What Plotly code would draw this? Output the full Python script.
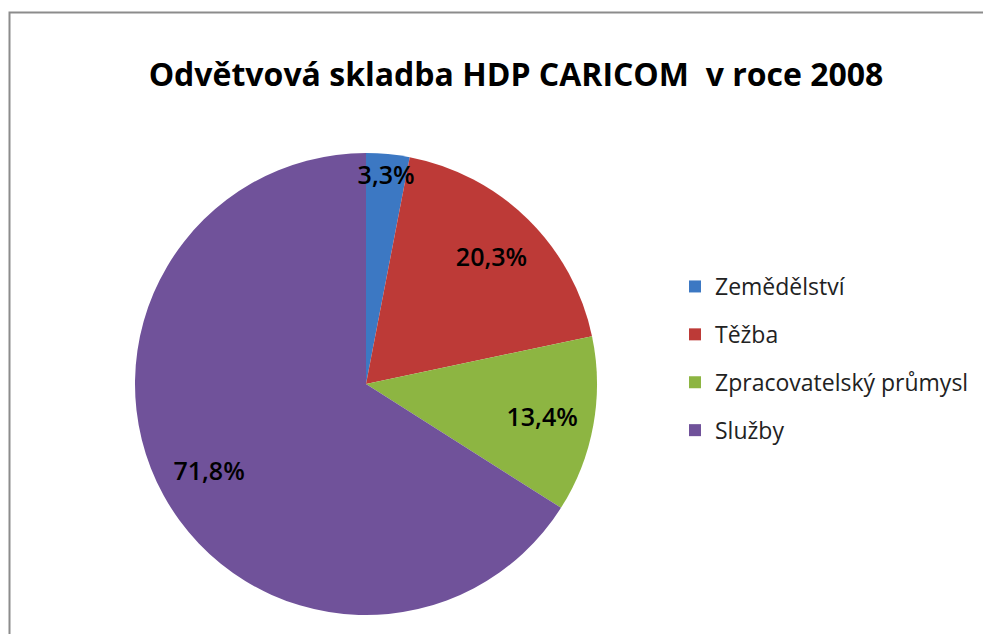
import plotly.graph_objs as go

# ---------------------------------------------------------------
# Data
# ---------------------------------------------------------------
sectors = ["Zemědělství", "Těžba", "Zpracovatelský průmysl", "Služby"]
shares = [3.3, 20.3, 13.4, 71.8]
colors = ["#3C78C3", "#BD3A37", "#8DB542", "#70529A"]

W, H = 991, 634
OFF = 8  # page body margin shifts the figure by 8px


def fmt_pct(v):
    """Czech style percentage, decimal comma."""
    return f"{v:.1f}".replace(".", ",") + "%"


def px_x(x):
    return (x - OFF) / W


def px_y(y):
    return 1 - (y - OFF) / H


pie_domain = dict(x=[px_x(135), px_x(597)], y=[px_y(615), px_y(153)])

fig = go.Figure()

# the coloured disc
fig.add_trace(
    go.Pie(
        labels=sectors,
        values=shares,
        textinfo="none",
        marker=dict(colors=colors, line=dict(width=0)),
        sort=False,
        direction="clockwise",
        rotation=0,
        showlegend=False,
        hoverinfo="label+value",
        domain=pie_domain,
    )
)

# transparent outer ring on top only carries the labels,
# so they sit out towards the rim and are not covered by the next slice
fig.add_trace(
    go.Pie(
        labels=sectors,
        values=shares,
        text=[fmt_pct(v) for v in shares],
        textinfo="text",
        textposition="inside",
        insidetextorientation="horizontal",
        textfont=dict(family="Open Sans", size=25, color="black", weight=600),
        marker=dict(colors=["rgba(0,0,0,0)"] * len(sectors), line=dict(width=0)),
        hole=0.55,
        sort=False,
        direction="clockwise",
        rotation=0,
        showlegend=False,
        hoverinfo="skip",
        domain=pie_domain,
    )
)

# legend entries (own traces so the spacing can follow the original)
for i, (name, col) in enumerate(zip(sectors, colors)):
    fig.add_trace(
        go.Scatter(
            x=[None],
            y=[None],
            mode="markers",
            name=name,
            legendgroup=f"g{i}",
            marker=dict(symbol="square", size=12, color=col),
        )
    )

fig.update_xaxes(visible=False)
fig.update_yaxes(visible=False)

fig.update_layout(
    width=W,
    height=H,
    margin=dict(l=0, r=0, t=0, b=0),
    paper_bgcolor="white",
    plot_bgcolor="white",
    uniformtext=dict(minsize=25, mode="show"),
    title=dict(
        text="<b>Odvětvová skladba HDP CARICOM  v roce 2008</b>",
        x=px_x(516),
        xanchor="center",
        y=px_y(75),
        yanchor="middle",
        font=dict(family="Open Sans", size=32, color="black"),
    ),
    legend=dict(
        x=px_x(675),
        xanchor="left",
        y=px_y(265),
        yanchor="top",
        font=dict(family="Open Sans", size=23, color="#222"),
        tracegroupgap=15,
        itemwidth=30,
    ),
    shapes=[
        dict(
            type="rect",
            xref="paper",
            yref="paper",
            x0=px_x(9.5),
            x1=1.02,
            y0=-0.02,
            y1=px_y(12.5),
            line=dict(color="#8C8C8C", width=2),
        )
    ],
)

fig.write_html("out.html")
